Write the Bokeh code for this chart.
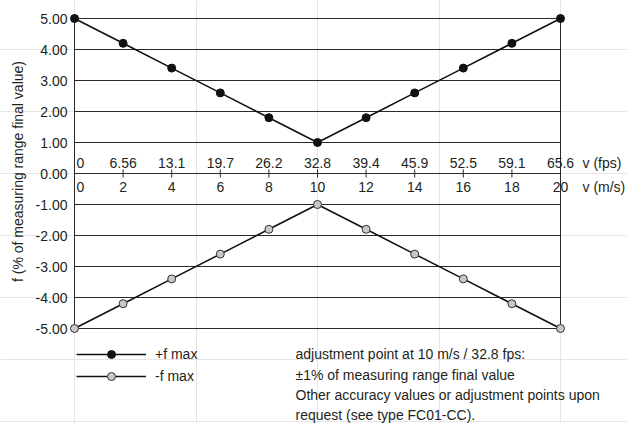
import math
from bokeh.plotting import figure
from bokeh.models import Range1d, Legend, LegendItem, ColumnDataSource
from bokeh.core.properties import value
from bokeh.embed import file_html
from bokeh.resources import INLINE

# ---------------- data ----------------
v_ms = [0, 2, 4, 6, 8, 10, 12, 14, 16, 18, 20]
v_ms_labels = ["0", "2", "4", "6", "8", "10", "12", "14", "16", "18", "20"]
v_fps_labels = ["0", "6.56", "13.1", "19.7", "26.2", "32.8", "39.4", "45.9",
                "52.5", "59.1", "65.6"]
f_max_pos = [5.0, 4.2, 3.4, 2.6, 1.8, 1.0, 1.8, 2.6, 3.4, 4.2, 5.0]
f_max_neg = [-5.0, -4.2, -3.4, -2.6, -1.8, -1.0, -1.8, -2.6, -3.4, -4.2, -5.0]
y_ticks = [-5, -4, -3, -2, -1, 0, 1, 2, 3, 4, 5]
y_tick_labels = ["-5.00", "-4.00", "-3.00", "-2.00", "-1.00", "0.00",
                 "1.00", "2.00", "3.00", "4.00", "5.00"]
y_title = "f (% of measuring range final value)"
x_unit_fps = "v (fps)"
x_unit_ms = "v (m/s)"
legend_labels = ["+f max", "-f max"]
notes = ["adjustment point at 10 m/s / 32.8  fps:",
         "\u00b11% of measuring range final value",
         "Other accuracy values or adjustment points upon",
         "request (see type FC01-CC)."]

# ---------------- layout ----------------
W, H = 627, 423
X0_PX, X1_PX = 74, 560      # px of first / last x value
YT_PX, YB_PX = 18, 328      # px of top / bottom y tick
xmin, xmax = min(v_ms), max(v_ms)
ymin, ymax = min(y_ticks), max(y_ticks)
sx = (X1_PX - X0_PX) / (xmax - xmin)
sy = (YB_PX - YT_PX) / (ymax - ymin)
x_range = Range1d(xmin - X0_PX / sx, xmax + (W - X1_PX) / sx)
y_range = Range1d(ymin - (H - YB_PX) / sy, ymax + YT_PX / sy)


def px_x(px):   # canvas px -> data x
    return xmin + (px - X0_PX) / sx


def px_y(py):   # canvas px -> data y
    return ymax - (py - YT_PX) / sy


INK = "#231f20"
GRID = "#2a2a2a"
FONT = "Liberation Sans"
FS = "14px"
txt = dict(text_font=value(FONT), text_font_size=FS, text_color=INK)

p = figure(width=W, height=H, x_range=x_range, y_range=y_range,
           output_backend="svg", toolbar_location=None, tools="",
           x_axis_location=None, y_axis_location=None,
           min_border=0)
p.outline_line_color = None
p.background_fill_color = "white"
p.border_fill_color = "white"

# horizontal grid lines (incl. zero axis)
n = len(y_ticks)
p.segment(x0=[xmin] * n, y0=y_ticks, x1=[xmax] * n, y1=y_ticks,
          line_color=GRID, line_width=1)
# vertical frame lines
p.segment(x0=[xmin, xmax], y0=[ymin, ymin], x1=[xmin, xmax], y1=[ymax, ymax],
          line_color=GRID, line_width=1)
# ticks on zero axis
p.scatter(x=v_ms[1:-1], y=[0] * (len(v_ms) - 2), marker="dash",
          angle=math.pi / 2, size=8, line_color=GRID, line_width=1)

# y tick labels
p.text(x=[xmin] * n, y=y_ticks, text=y_tick_labels, x_offset=-7,
       text_align="right", text_baseline="middle", **txt)
# y title
p.text(x=[px_x(17)], y=[px_y(171)], text=[y_title], angle=math.pi / 2,
       text_align="center", text_baseline="middle", **txt)

# tick labels on zero axis
offs = [6 if v == xmin else 0 for v in v_ms]
src = ColumnDataSource(dict(x=v_ms, y=[0] * len(v_ms), fps=v_fps_labels,
                            ms=v_ms_labels, off=offs))
p.text(x="x", y="y", text="fps", source=src, x_offset="off", y_offset=-10.5,
       text_align="center", text_baseline="middle", **txt)
p.text(x="x", y="y", text="ms", source=src, x_offset="off", y_offset=13,
       text_align="center", text_baseline="middle", **txt)
p.text(x=[xmax, xmax], y=[0, 0], text=[x_unit_fps, x_unit_ms],
       x_offset=22, y_offset=[-10.5, 13],
       text_align="left", text_baseline="middle", **txt)

# data series
lp = p.line(v_ms, f_max_pos, line_color="#111111", line_width=1.6)
sp = p.scatter(v_ms, f_max_pos, size=8, fill_color="#111111",
               line_color="#111111")
ln = p.line(v_ms, f_max_neg, line_color="#111111", line_width=1.6)
sn = p.scatter(v_ms, f_max_neg, size=8, fill_color="#c8c8c8",
               line_color="#333333", line_width=1)

legend = Legend(items=[LegendItem(label=legend_labels[0], renderers=[lp, sp]),
                       LegendItem(label=legend_labels[1], renderers=[ln, sn])],
                location=(76, H - 386), orientation="vertical",
                glyph_width=70, glyph_height=20, spacing=2, padding=0,
                margin=0, label_standoff=9, border_line_color=None,
                background_fill_alpha=0, label_text_font=FONT,
                label_text_font_size=FS, label_text_color=INK,
                label_height=20)
p.add_layout(legend)

# notes
rows = [353, 374, 394, 414]
p.text(x=[px_x(295)] * len(notes), y=[px_y(r) for r in rows], text=notes,
       text_align="left", text_baseline="middle", **txt)

open("out.html", "w").write(file_html(p, INLINE))
